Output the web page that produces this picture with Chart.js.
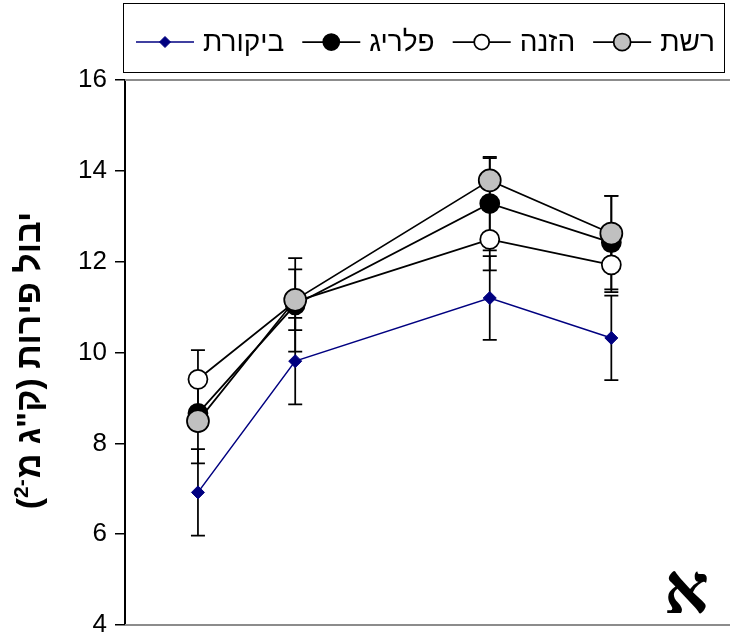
<!DOCTYPE html>
<html>
<head>
<meta charset="utf-8">
<script src="https://cdn.jsdelivr.net/npm/chart.js@4.4.1/dist/chart.umd.min.js"></script>
<style>
  html, body { margin: 0; padding: 0; background: #ffffff; }
  #wrap { width: 730px; height: 636px; }
</style>
</head>
<body>
<div id="wrap"><canvas id="yieldChart" width="730" height="636"></canvas></div>
<script>
// Sampling times (x positions) and y-axis ticks
const samplingTimes = [1, 2, 4, 5.25];
const yTickValues = [4, 6, 8, 10, 12, 14, 16];

// Series names
const seriesNames = ['רשת', 'הזנה', 'פלריג', 'ביקורת'];

// Fruit yield (kg m-2) and error-bar half-widths per treatment
const netYield = [8.49, 11.16, 13.79, 12.62];
const netError = [0.93, 0.67, 0.49, 0.83];

const feedYield = [9.41, 11.12, 12.49, 11.93];
const feedError = [0.64, 0.20, 0.68, 0.60];

const plarigYield = [8.66, 11.05, 13.28, 12.42];
const plarigError = [0.15, 1.03, 1.03, 1.03];

const controlYield = [6.92, 9.81, 11.20, 10.32];
const controlError = [0.95, 0.95, 0.92, 0.93];

const yAxisTitleMain = 'יבול פירות (ק"ג מ';
const yAxisTitleSup = '2-';
const panelLetter = 'א';

const SANS = '"Liberation Sans", Arial, sans-serif';
const NAVY = '#000080';

const toPoints = vals => vals.map((v, i) => ({ x: samplingTimes[i], y: v }));

const datasets = [
  { label: seriesNames[0], data: toPoints(netYield), errors: netError, legendRadius: 8.5,
    borderColor: '#000', borderWidth: 1.75, pointStyle: 'circle', pointRadius: 11,
    pointBackgroundColor: '#c0c0c0', pointBorderColor: '#000', pointBorderWidth: 1.75 },
  { label: seriesNames[1], data: toPoints(feedYield), errors: feedError, legendRadius: 7.5,
    borderColor: '#000', borderWidth: 1.75, pointStyle: 'circle', pointRadius: 9.5,
    pointBackgroundColor: '#fff', pointBorderColor: '#000', pointBorderWidth: 1.75 },
  { label: seriesNames[2], data: toPoints(plarigYield), errors: plarigError, legendRadius: 8,
    borderColor: '#000', borderWidth: 1.75, pointStyle: 'circle', pointRadius: 9.5,
    pointBackgroundColor: '#000', pointBorderColor: '#000', pointBorderWidth: 1.75 },
  { label: seriesNames[3], data: toPoints(controlYield), errors: controlError, legendRadius: 5.5,
    borderColor: NAVY, borderWidth: 1.5, pointStyle: 'rectRot', pointRadius: 6.5,
    pointBackgroundColor: NAVY, pointBorderColor: NAVY, pointBorderWidth: 1 }
];

// Plot frame lines and error bars, drawn beneath the series
const framePlugin = {
  id: 'frameAndErrors',
  beforeDatasetsDraw(chart) {
    const { ctx, chartArea: a, scales } = chart;
    ctx.save();
    ctx.strokeStyle = '#8c8c8c';
    ctx.lineWidth = 2;
    ctx.beginPath();
    ctx.moveTo(a.left, a.top); ctx.lineTo(chart.width, a.top);
    ctx.moveTo(a.left, a.bottom); ctx.lineTo(chart.width, a.bottom);
    ctx.stroke();

    ctx.strokeStyle = '#000';
    ctx.lineWidth = 1.75;
    const cap = 7;
    chart.data.datasets.forEach(ds => {
      ds.data.forEach((p, i) => {
        const e = ds.errors[i];
        const x = scales.x.getPixelForValue(p.x);
        const yHi = scales.y.getPixelForValue(p.y + e);
        const yLo = scales.y.getPixelForValue(p.y - e);
        ctx.beginPath();
        ctx.moveTo(x, yHi); ctx.lineTo(x, yLo);
        ctx.moveTo(x - cap, yHi); ctx.lineTo(x + cap, yHi);
        ctx.moveTo(x - cap, yLo); ctx.lineTo(x + cap, yLo);
        ctx.stroke();
      });
    });
    ctx.restore();
  }
};

function drawMarker(ctx, ds, cx, cy, r) {
  ctx.fillStyle = ds.pointBackgroundColor;
  ctx.strokeStyle = ds.pointBorderColor;
  ctx.lineWidth = ds.pointBorderWidth;
  ctx.beginPath();
  if (ds.pointStyle === 'rectRot') {
    ctx.moveTo(cx, cy - r); ctx.lineTo(cx + r, cy); ctx.lineTo(cx, cy + r); ctx.lineTo(cx - r, cy);
    ctx.closePath();
  } else {
    ctx.arc(cx, cy, r, 0, Math.PI * 2);
  }
  ctx.fill();
  ctx.stroke();
}

// Legend box, axis title and panel letter
const decorPlugin = {
  id: 'decor',
  afterDraw(chart) {
    const { ctx, chartArea: a } = chart;
    ctx.save();

    // legend
    ctx.strokeStyle = '#000';
    ctx.lineWidth = 1;
    ctx.strokeRect(123.5, 3.5, 601, 69);
    ctx.font = '28px ' + SANS;
    ctx.textBaseline = 'middle';
    ctx.textAlign = 'left';
    const ly = 42;
    let x = 136;
    const items = chart.data.datasets.slice().reverse();
    items.forEach(ds => {
      ctx.strokeStyle = ds.borderColor;
      ctx.lineWidth = ds.borderWidth;
      ctx.beginPath();
      ctx.moveTo(x, ly); ctx.lineTo(x + 58, ly);
      ctx.stroke();
      drawMarker(ctx, ds, x + 29, ly, ds.legendRadius);
      ctx.fillStyle = '#000';
      ctx.direction = 'rtl';
      ctx.textAlign = 'left';
      ctx.fillText(ds.label, x + 67, ly + 1);
      const w = ctx.measureText(ds.label).width;
      x = x + 67 + w + 18;
    });

    // rotated y-axis title
    ctx.translate(31, (a.top + a.bottom) / 2 + 8);
    ctx.rotate(-Math.PI / 2);
    ctx.fillStyle = '#000';
    ctx.textBaseline = 'middle';
    const mainFont = 'bold 34px ' + SANS;
    const supFont = 'bold 21px ' + SANS;
    ctx.font = mainFont; ctx.direction = 'ltr';
    const wParen = ctx.measureText('(').width;
    ctx.direction = 'rtl';
    const wMain = ctx.measureText(yAxisTitleMain).width;
    ctx.font = supFont; ctx.direction = 'ltr';
    const wSup = ctx.measureText(yAxisTitleSup).width;
    const total = wParen + wSup + wMain + 1;
    let tx = -total / 2;
    ctx.textAlign = 'left';
    ctx.font = mainFont; ctx.direction = 'ltr';
    ctx.fillText('(', tx, 0);
    tx += wParen;
    ctx.font = supFont;
    ctx.fillText(yAxisTitleSup, tx, -9);
    tx += wSup + 1;
    ctx.font = mainFont; ctx.direction = 'rtl';
    ctx.fillText(yAxisTitleMain, tx, 0);
    ctx.restore();

    // panel letter
    ctx.save();
    ctx.font = 'bold 70px "Liberation Serif", "DejaVu Serif", serif';
    ctx.fillStyle = '#000';
    ctx.textAlign = 'right';
    ctx.textBaseline = 'alphabetic';
    ctx.direction = 'rtl';
    ctx.fillText(panelLetter, 709, 613);
    ctx.restore();
  }
};

new Chart(document.getElementById('yieldChart'), {
  type: 'line',
  data: { datasets },
  plugins: [framePlugin, decorPlugin],
  options: {
    responsive: false,
    animation: false,
    devicePixelRatio: 1,
    layout: { autoPadding: false, padding: { top: 80, bottom: 11, left: 0, right: 0 } },
    plugins: { legend: { display: false }, tooltip: { enabled: false } },
    scales: {
      x: {
        type: 'linear', display: false, min: 0.25, max: 6.47,
        afterFit: s => { s.paddingLeft = 0; s.paddingRight = 0; }
      },
      y: {
        min: 4, max: 16,
        afterBuildTicks: s => { s.ticks = yTickValues.map(v => ({ value: v })); },
        ticks: { font: { family: SANS, size: 26 }, color: '#000', padding: 8 },
        grid: { drawOnChartArea: false, tickLength: 10, color: '#000', lineWidth: 1.5 },
        border: { color: '#000', width: 2 },
        afterFit: s => {
          s.width = 125;
          s.paddingTop = 0; s.paddingBottom = 0; s.paddingLeft = 0; s.paddingRight = 0;
        }
      }
    }
  }
});
</script>
</body>
</html>
